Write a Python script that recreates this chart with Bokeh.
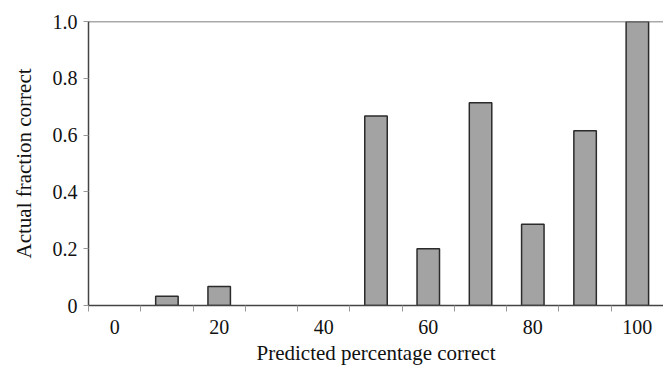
from bokeh.plotting import figure
from bokeh.models import FixedTicker, Span, ColumnDataSource, Range1d
from bokeh.embed import file_html
from bokeh.resources import INLINE

# Data
predicted = [0, 10, 20, 30, 40, 50, 60, 70, 80, 90, 100]
actual = [0.0, 0.033, 0.067, 0.0, 0.0, 0.667, 0.2, 0.714, 0.286, 0.615, 1.0]
x_label_ticks = [0, 20, 40, 60, 80, 100]
y_ticks = [0, 0.2, 0.4, 0.6, 0.8, 1.0]
y_tick_labels = ["0", "0.2", "0.4", "0.6", "0.8", "1.0"]
x_title = "Predicted percentage correct"
y_title = "Actual fraction correct"

FONT = "Liberation Serif"

bars = [(x, v) for x, v in zip(predicted, actual) if v > 0]
src = ColumnDataSource(dict(x=[b[0] for b in bars], top=[b[1] for b in bars]))

p = figure(width=663, height=369, output_backend="svg", toolbar_location=None,
           x_range=Range1d(-5, 105), y_range=Range1d(0, 1),
           min_border_left=88, min_border_right=0, min_border_top=21, min_border_bottom=64)
p.outline_line_color = None
p.grid.visible = False
p.background_fill_color = "white"
p.border_fill_color = "white"

p.vbar(x="x", top="top", width=4.3, bottom=0, source=src,
       fill_color="#a3a3a3", line_color="#2b2b2b", line_width=1.5)

p.add_layout(Span(location=1.0, dimension="width", line_color="#555555", line_width=1.5))

# x axis
xa = p.xaxis[0]
step = predicted[1] - predicted[0]
xa.ticker = FixedTicker(ticks=x_label_ticks,
                        minor_ticks=[c - step / 2 for c in predicted] + [predicted[-1] + step / 2])
xa.major_tick_out = 0
xa.major_tick_in = 0
xa.minor_tick_out = 6
xa.minor_tick_in = 0
xa.minor_tick_line_color = "#999999"
xa.axis_line_color = "#444444"
xa.axis_line_width = 1.5
xa.major_label_standoff = 8
xa.major_label_text_font = FONT
xa.major_label_text_font_size = "20px"
xa.major_label_text_color = "#111111"
xa.axis_label = x_title
xa.axis_label_text_font = FONT
xa.axis_label_text_font_size = "21px"
xa.axis_label_text_font_style = "normal"
xa.axis_label_text_color = "#111111"
xa.axis_label_standoff = 4

# y axis
ya = p.yaxis[0]
ya.ticker = FixedTicker(ticks=y_ticks)
ya.major_label_overrides = {t: l for t, l in zip(y_ticks, y_tick_labels)}
ya.major_tick_out = 5
ya.major_tick_in = 0
ya.minor_tick_out = 0
ya.minor_tick_in = 0
ya.major_tick_line_color = "#999999"
ya.axis_line_color = "#444444"
ya.axis_line_width = 1.5
ya.major_label_standoff = 6
ya.major_label_text_font = FONT
ya.major_label_text_font_size = "20px"
ya.major_label_text_color = "#111111"
ya.axis_label = y_title
ya.axis_label_text_font = FONT
ya.axis_label_text_font_size = "21px"
ya.axis_label_text_font_style = "normal"
ya.axis_label_text_color = "#111111"
ya.axis_label_standoff = 14

open("out.html", "w").write(file_html(p, INLINE))
